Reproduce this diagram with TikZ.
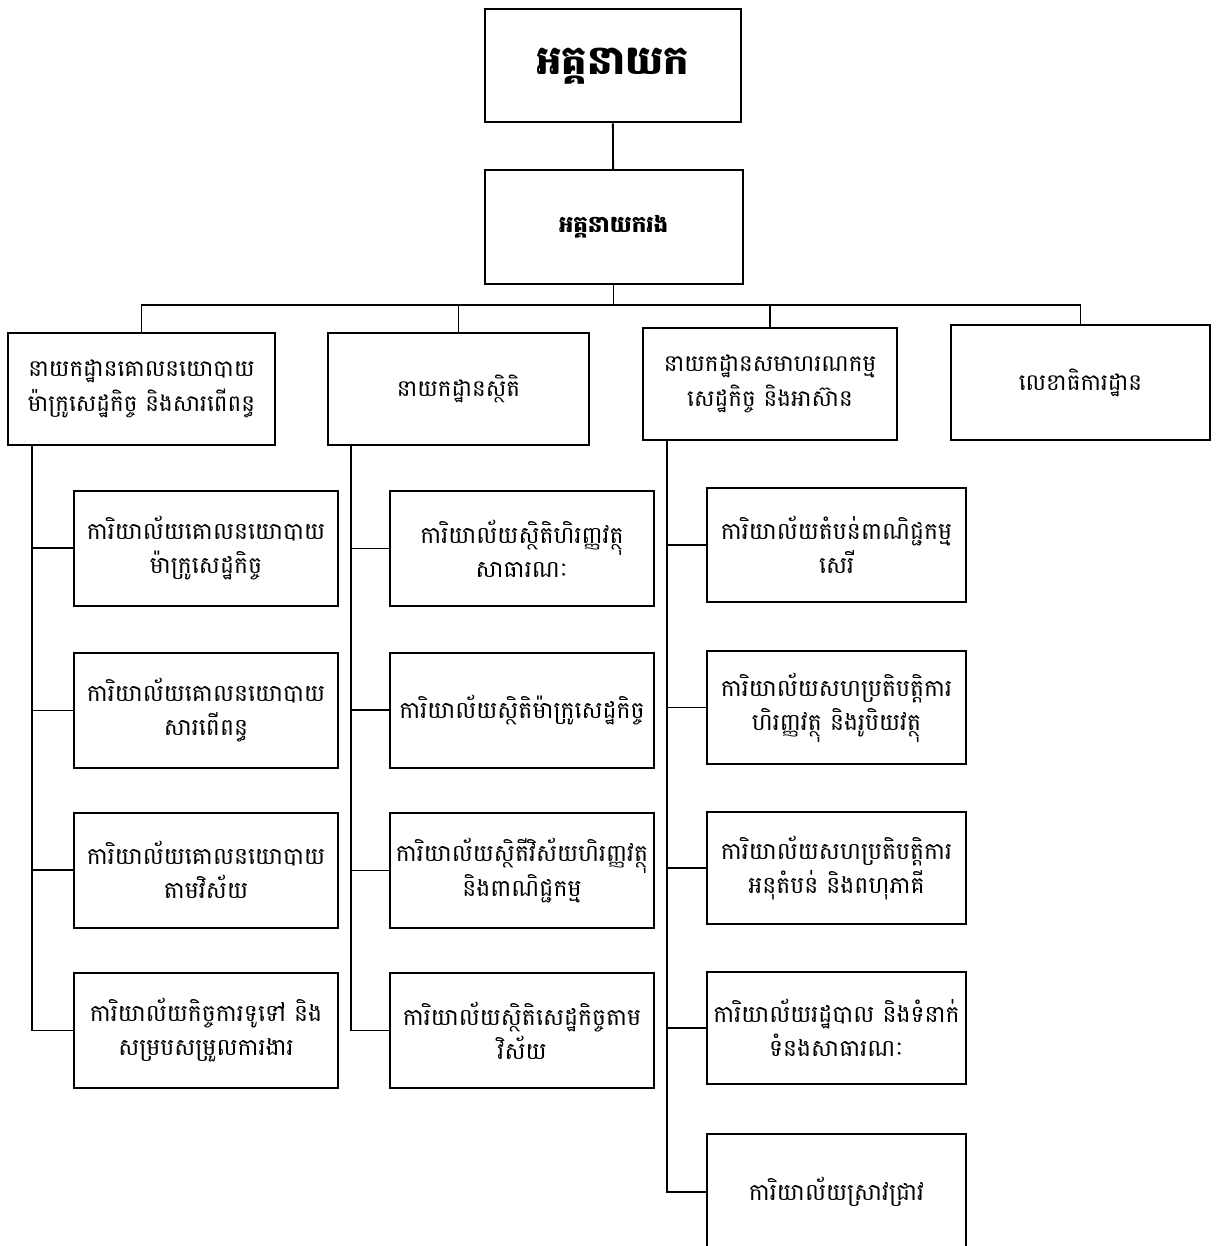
\documentclass[tikz,border=0pt]{standalone}
\usepackage{fontspec}
\newfontfamily\km[Script=Khmer]{Battambang}
\begin{document}
\begin{tikzpicture}[x=1pt,y=-1pt,
  box/.style={draw, line width=2pt, inner sep=0pt, align=center},
  headbox/.style={box, font=\km\bfseries\fontsize{40}{44}\selectfont},
  subbox/.style={box, font=\km\bfseries\fontsize{23}{28}\selectfont},
  deptbox/.style={box, minimum height=112pt, font=\km\fontsize{23}{35}\selectfont},
  leaf/.style={box, minimum width=264pt, minimum height=115pt, font=\km\fontsize{23.5}{34}\selectfont},
  conn/.style={line width=1.8pt}]
\clip (0,0) rectangle (1216,1246);
\fill[white] (0,0) rectangle (1216,1246);
% top levels
\node[headbox, minimum width=256pt, minimum height=113pt] (top) at (612.5,66) {អគ្គនាយក};
\node[subbox, minimum width=258pt, minimum height=114pt] (sec) at (613.5,227) {អគ្គនាយករង};
% departments
\node[deptbox, minimum width=267pt] (A) at (141.5,389) {នាយកដ្ឋានគោលនយោបាយ\\ម៉ាក្រូសេដ្ឋកិច្ច និងសារពើពន្ធ};
\node[deptbox, minimum width=261pt] (B) at (458.5,389) {នាយកដ្ឋានស្ថិតិ};
\node[deptbox, minimum width=254pt] (C) at (770,384) {នាយកដ្ឋានសមាហរណកម្ម\\សេដ្ឋកិច្ច និងអាស៊ាន};
\node[deptbox, minimum width=259pt, minimum height=115pt] (D) at (1080.5,382.5) {លេខាធិការដ្ឋាន};
% column 1
\node[leaf] (a1) at (206,548) {ការិយាល័យគោលនយោបាយ\\ម៉ាក្រូសេដ្ឋកិច្ច};
\node[leaf] (a2) at (206,710.5) {ការិយាល័យគោលនយោបាយ\\សារពើពន្ធ};
\node[leaf] (a3) at (206,870) {ការិយាល័យគោលនយោបាយ\\តាមវិស័យ};
\node[leaf] (a4) at (206,1030.5) {ការិយាល័យកិច្ចការទូទៅ និង\\សម្របសម្រួលការងារ};
% column 2
\node[leaf] (b1) at (522,548.5) {ការិយាល័យស្ថិតិហិរញ្ញវត្ថុ\\សាធារណៈ};
\node[leaf] (b2) at (522,710) {ការិយាល័យស្ថិតិម៉ាក្រូសេដ្ឋកិច្ច};
\node[leaf] (b3) at (522,870.5) {ការិយាល័យស្ថិតីវិស័យហិរញ្ញវត្ថុ\\និងពាណិជ្ជកម្ម};
\node[leaf] (b4) at (522,1030.5) {ការិយាល័យស្ថិតិសេដ្ឋកិច្ចតាម\\វិស័យ};
% column 3
\node[leaf, minimum width=259pt, minimum height=114pt] (c1) at (836.5,545) {ការិយាល័យតំបន់ពាណិជ្ជកម្ម\\សេរី};
\node[leaf, minimum width=259pt, minimum height=113pt] (c2) at (836.5,707.5) {ការិយាល័យសហប្រតិបត្តិការ\\ហិរញ្ញវត្ថុ និងរូបិយវត្ថុ};
\node[leaf, minimum width=259pt, minimum height=112pt] (c3) at (836.5,868) {ការិយាល័យសហប្រតិបត្តិការ\\អនុតំបន់ និងពហុភាគី};
\node[leaf, minimum width=259pt, minimum height=112pt] (c4) at (836.5,1028) {ការិយាល័យរដ្ឋបាល និងទំនាក់\\ទំនងសាធារណៈ};
\node[leaf, minimum width=259pt, minimum height=116pt] (c5) at (836.5,1192) {ការិយាល័យស្រាវជ្រាវ};
% connectors
\coordinate (bus) at (0,305);
\draw[conn] (top) -- (sec);
\draw[conn] (sec.south) -- (sec.south |- bus);
\draw[conn] (A.north) -- (A.north |- bus) -- (D.north |- bus) -- (D.north);
\draw[conn] (B.north) -- (B.north |- bus);
\draw[conn] (C.north) -- (C.north |- bus);
\coordinate (sA) at ([xshift=25pt]A.south west);
\coordinate (sB) at ([xshift=24pt]B.south west);
\coordinate (sC) at ([xshift=25pt]C.south west);
\draw[conn] (sA) |- (a4.west);
\draw[conn] (sB) |- (b4.west);
\draw[conn] (sC) |- (c5.west);
\foreach \n in {a1,a2,a3} \draw[conn] (\n.west) -- (\n.west -| sA);
\foreach \n in {b1,b2,b3} \draw[conn] (\n.west) -- (\n.west -| sB);
\foreach \n in {c1,c2,c3,c4} \draw[conn] (\n.west) -- (\n.west -| sC);
\end{tikzpicture}
\end{document}
